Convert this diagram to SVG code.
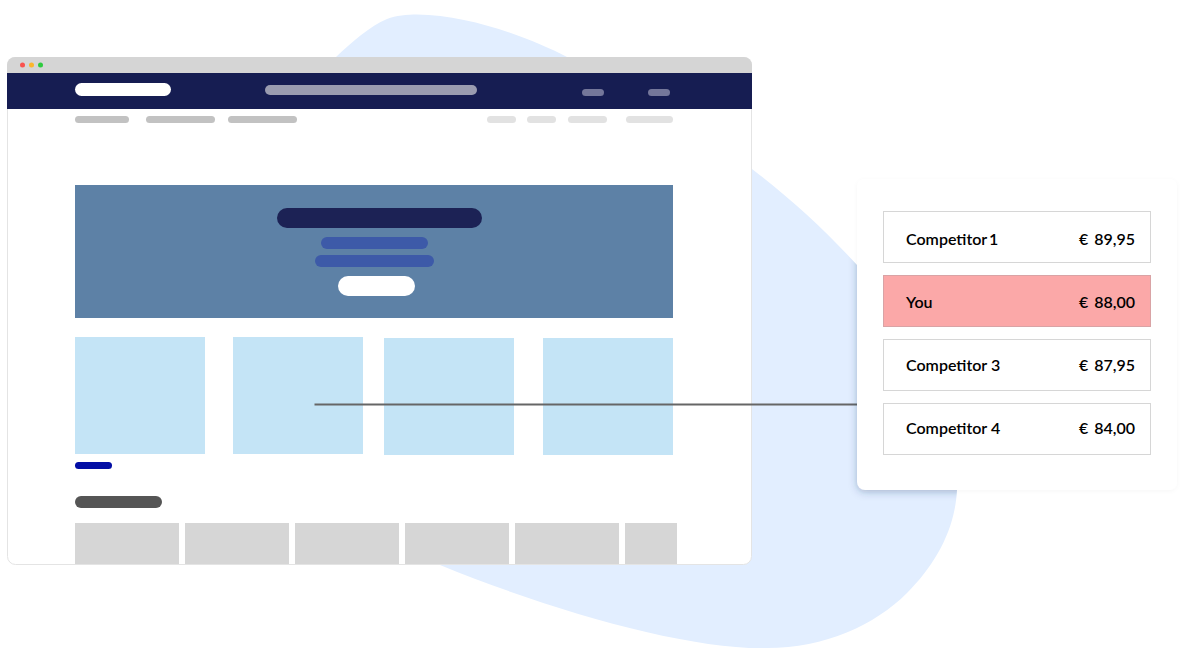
<svg xmlns="http://www.w3.org/2000/svg" width="1197" height="670" viewBox="0 0 1197 670">
<defs>
<style>
.t{font-family:"Lato","Open Sans",sans-serif;font-size:16px;font-weight:600;fill:#000}
.r{text-anchor:end;word-spacing:2px}
.row{fill:#fff;stroke:#d6d6d6;stroke-width:1}
.tile{fill:#c4e4f6}
.grey{fill:#d6d6d6}
.nav{fill:#c2c2c2}
.nav2{fill:#e2e2e2}
</style>
<filter id="s" x="-10%" y="-10%" width="120%" height="120%"><feGaussianBlur stdDeviation="4"/></filter>
<filter id="f" x="-10%" y="-10%" width="120%" height="120%"><feDropShadow dx="0" dy="1" stdDeviation="2" flood-color="#000" flood-opacity="0.035"/></filter>
<clipPath id="bc"><path d="M336 57C352 42 370 26 387 19C396 15.500 407 14.500 417 14.500C470 15 530 38 567 57L752 169C790 198 825 230 857 265L957 490C955 530 935 565 907 593C875 625 825 648 767 648C690 650 555 612 440 565Z"/></clipPath>
</defs>
<rect width="1197" height="670" fill="#fff"/>
<path id="blob" fill="#e2eeff" d="M336 57C352 42 370 26 387 19C396 15.500 407 14.500 417 14.500C470 15 530 38 567 57L752 169C790 198 825 230 857 265L957 490C955 530 935 565 907 593C875 625 825 648 767 648C690 650 555 612 440 565Z"/>
<g id="browser">
<rect x="7.500" y="57.500" width="744" height="507" rx="8" fill="#fff" stroke="#e4e4e4"/>
<path d="M7 73V65a8 8 0 0 1 8-8H744a8 8 0 0 1 8 8V73Z" fill="#d5d5d5"/>
<circle cx="22.500" cy="65" r="2.500" fill="#f9524f"/><circle cx="31.500" cy="65" r="2.500" fill="#fbb62c"/><circle cx="40.500" cy="65" r="2.500" fill="#2ecb3f"/>
<rect x="7" y="73" width="745" height="36" fill="#161d52"/>
<rect x="75" y="83" width="96" height="13" rx="6.500" fill="#fff"/>
<rect x="265" y="85" width="212" height="10" rx="5" fill="#9a9cb0"/>
<rect x="582" y="89" width="22" height="7" rx="3.500" fill="#74779a"/>
<rect x="648" y="89" width="22" height="7" rx="3.500" fill="#74779a"/>
<rect class="nav" x="75" y="116" width="54" height="7" rx="3.500"/>
<rect class="nav" x="146" y="116" width="69" height="7" rx="3.500"/>
<rect class="nav" x="228" y="116" width="69" height="7" rx="3.500"/>
<rect class="nav2" x="487" y="116" width="29" height="7" rx="3.500"/>
<rect class="nav2" x="527" y="116" width="29" height="7" rx="3.500"/>
<rect class="nav2" x="568" y="116" width="39" height="7" rx="3.500"/>
<rect class="nav2" x="626" y="116" width="47" height="7" rx="3.500"/>
<rect x="75" y="185" width="598" height="133" fill="#5d81a6"/>
<rect x="277" y="208" width="205" height="20" rx="10" fill="#1c2255"/>
<rect x="321" y="237" width="107" height="12" rx="6" fill="#3d5aa8"/>
<rect x="315" y="255" width="119" height="12" rx="6" fill="#3d5aa8"/>
<rect x="338" y="276" width="77" height="20" rx="10" fill="#fff"/>
<rect class="tile" x="75" y="337" width="130" height="117"/>
<rect class="tile" x="233" y="337" width="130" height="117"/>
<rect class="tile" x="384" y="338" width="130" height="117"/>
<rect class="tile" x="543" y="338" width="130" height="117"/>
<rect x="75" y="462" width="37" height="7" rx="3.500" fill="#030ea5"/>
<rect x="75" y="496" width="87" height="12" rx="6" fill="#555"/>
<rect class="grey" x="75" y="523" width="104" height="41"/>
<rect class="grey" x="185" y="523" width="104" height="41"/>
<rect class="grey" x="295" y="523" width="104" height="41"/>
<rect class="grey" x="405" y="523" width="104" height="41"/>
<rect class="grey" x="515" y="523" width="104" height="41"/>
<rect class="grey" x="625" y="523" width="52" height="41"/>
</g>
<g id="connectors"><path d="M314.500 404.500H858" fill="none" stroke="#666" stroke-width="2"/></g>
<g clip-path="url(#bc)"><rect x="857" y="180" width="320" height="312" rx="8" fill="#1c3a6e" fill-opacity="0.28" filter="url(#s)"/></g>
<g id="panel"><rect x="857" y="179" width="320" height="311" rx="8" fill="#fff" filter="url(#f)"/></g>
<g id="row1"><rect class="row" x="883.500" y="211.500" width="267" height="51"/><text class="t" x="906" y="245" word-spacing="-2">Competitor 1</text><text class="t r" x="1135" y="245">€ 89,95</text></g>
<g id="row2"><rect x="883.500" y="275.500" width="267" height="51" fill="#fba8a8" stroke="#d9a3a5"/><text class="t" x="906" y="308">You</text><text class="t r" x="1135" y="308">€ 88,00</text></g>
<g id="row3"><rect class="row" x="883.500" y="339.500" width="267" height="51"/><text class="t" x="906" y="371">Competitor 3</text><text class="t r" x="1135" y="371">€ 87,95</text></g>
<g id="row4"><rect class="row" x="883.500" y="403.500" width="267" height="51"/><text class="t" x="906" y="434">Competitor 4</text><text class="t r" x="1135" y="434">€ 84,00</text></g>
</svg>
